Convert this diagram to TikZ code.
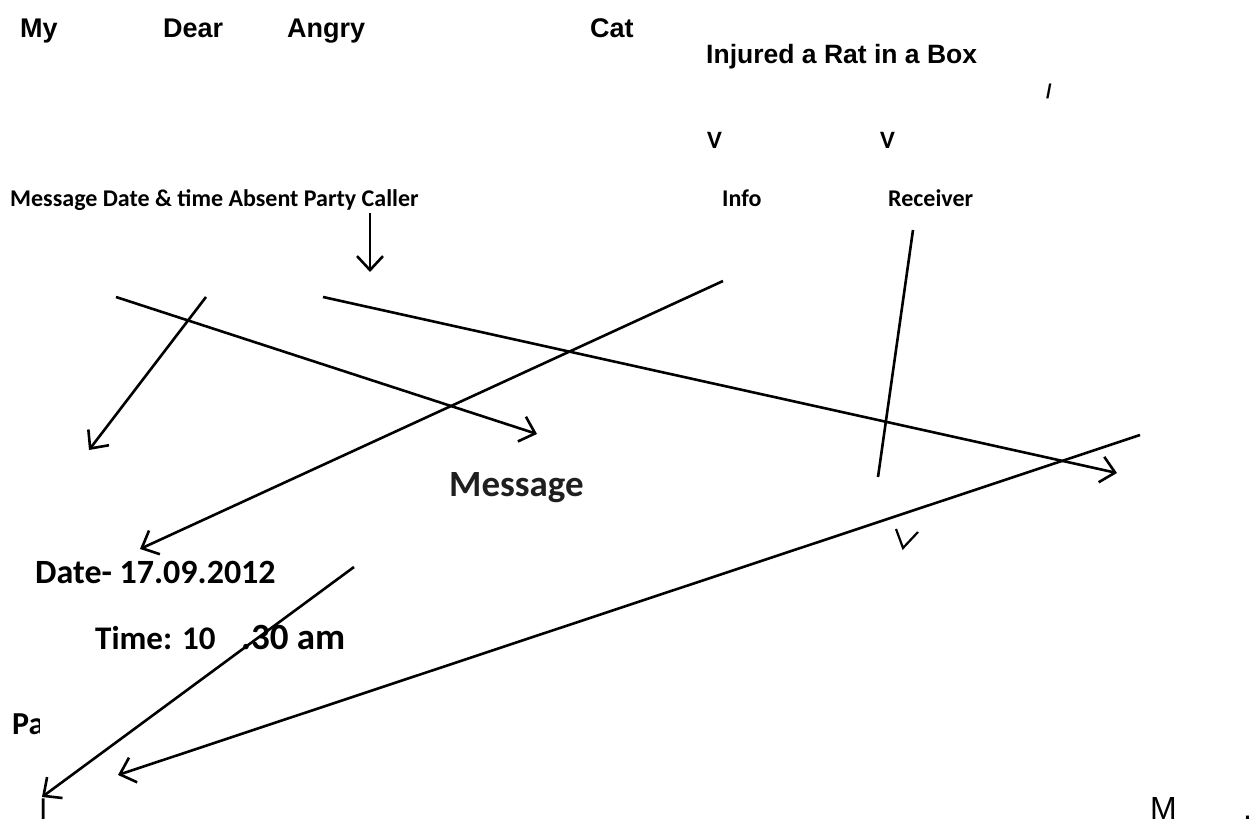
\documentclass[tikz,border=0pt]{standalone}
\usepackage{fontspec}
\usepackage{graphicx}
\setmainfont{Liberation Sans}
\newfontfamily\calfont{Carlito}
\usetikzlibrary{arrows.meta}
\tikzset{
  ttl/.style={anchor=base west, inner sep=0pt, font=\fontsize{27}{32}\selectfont\bfseries},
  lbl/.style={anchor=base west, inner sep=0pt, font=\calfont\fontsize{24}{29}\selectfont\bfseries},
  big/.style={anchor=base west, inner sep=0pt, font=\calfont\fontsize{34}{40}\selectfont\bfseries},
  thin/.style={anchor=base west, inner sep=0pt, font=\fontsize{32}{38}\selectfont},
  conn/.style={line width=2.6pt, -{Straight Barb[length=14pt,width=26pt]}},
  bare/.style={line width=2.6pt}
}
\begin{document}
\begin{tikzpicture}[x=1pt,y=-1pt]
\useasboundingbox[fill=white] (0,0) rectangle (1260,826);
% top words
\node[ttl] (my) at (20,38) {My};
\node[ttl] (dear) at (163,38) {Dear};
\node[ttl] (angry) at (287,38) {Angry};
\node[ttl] (cat) at (590,38) {Cat};
\node[ttl, font=\fontsize{26.5}{32}\selectfont\bfseries] (rat) at (706,64) {Injured a Rat in a Box};
\node[ttl, font=\fontsize{20}{24}\selectfont\bfseries] (slash) at (1046,99) {/};
\node[lbl, font=\calfont\fontsize{25}{30}\selectfont\bfseries] (v1) at (707,149) {V};
\node[lbl, font=\calfont\fontsize{25}{30}\selectfont\bfseries] (v2) at (880,149) {V};
% labels row
\node[lbl] (row) at (10,207) {Message Date \& time Absent Party Caller};
\node[lbl] (info) at (722,207) {Info};
\node[lbl] (recv) at (888,207) {Receiver};
% central words
\node[big, font=\calfont\fontsize{37}{44}\selectfont\bfseries, text=black!88] (msg) at (449,496) {Message};
\node[big] (date) at (35,583) {Date- 17.09.2012};
\node[big, font=\calfont\fontsize{33}{40}\selectfont\bfseries] (time) at (95,649) {Time: 10};
\node[big, font=\calfont\fontsize{37}{44}\selectfont\bfseries] (half) at (241,649) {.30 am};
\begin{scope}
  \clip (0,690) rectangle (39,760);
  \node[big, font=\calfont\fontsize{32}{38}\selectfont\bfseries] (pa) at (12,734) {Pa};
\end{scope}
\node[thin, font=\fontsize{30}{36}\selectfont] (stem) at (39,819) {I};
\node[thin] (m) at (1150,819) {M};
\node[thin] (dot) at (1243,819) {.};
% coordinates
\coordinate (a1) at (116,297);  \coordinate (b1) at (537,434);
\coordinate (a2) at (206,297);  \coordinate (b2) at (89,450);
\coordinate (a3) at (370,213);  \coordinate (b3) at (370,272);
\coordinate (a4) at (323,297);  \coordinate (b4) at (1117,473);
\coordinate (a5) at (723,281);  \coordinate (b5) at (140,549);
\coordinate (a6) at (913,230);  \coordinate (b6) at (878,477);
\coordinate (a7) at (1140,435); \coordinate (b7) at (118,775);
\coordinate (a8) at (354,567);  \coordinate (b8) at (42,797);
\coordinate (c1) at (896,529); \coordinate (c2) at (903,548); \coordinate (c3) at (918,532);
% connectors
\draw[conn] (a1) -- (b1);
\draw[conn] (a2) -- (b2);
\draw[conn] (a3) -- (b3);
\draw[conn] (a4) -- (b4);
\draw[conn] (a5) -- (b5);
\draw[bare] (a6) -- (b6);
\draw[conn] (a7) -- (b7);
\draw[conn] (a8) -- (b8);
\draw[bare, line width=2.2pt] (c1) -- (c2) -- (c3);
\end{tikzpicture}
\end{document}
